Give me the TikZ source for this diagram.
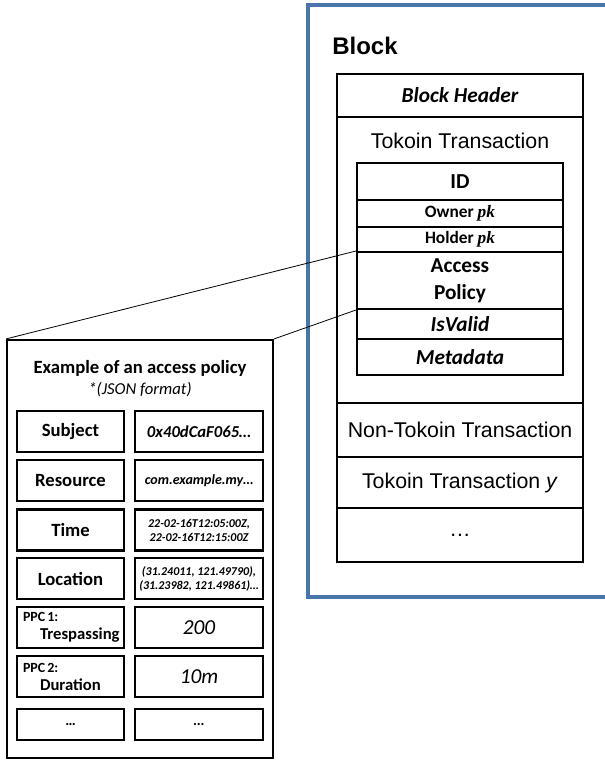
\documentclass[tikz,border=0pt]{standalone}
\usepackage{fontspec}
\setmainfont{Liberation Sans}
\newfontfamily\calibri{Carlito}
\newfontfamily\timesrm{Liberation Serif}
\usepackage{tikz}
\usetikzlibrary{positioning}

\definecolor{blockblue}{RGB}{72,118,170}
\newcommand{\pkey}{{\timesrm\bfseries\itshape pk}}

\begin{document}
\begin{tikzpicture}[x=0.75pt, y=-0.75pt, every node/.style={inner sep=0pt},
    blockrow/.style={draw, line width=2.2pt, minimum width=184.5pt, font={\fontsize{16}{19}\selectfont}},
    txrow/.style={draw, line width=1.5pt, minimum width=154.5pt, align=center, font={\calibri\bfseries\fontsize{16}{20}\selectfont}},
    keycell/.style={draw, line width=2.2pt, minimum width=80.25pt, minimum height=30.75pt, align=center, font={\calibri\bfseries\fontsize{14}{16}\selectfont}},
    ppccell/.style={keycell, text width=71.25pt, align=left, font={\calibri\bfseries\fontsize{12.5}{13.5}\selectfont}},
    valcell/.style={draw, line width=2.2pt, minimum width=96pt, minimum height=30.75pt, align=center}]
    \useasboundingbox (0,0) rectangle (605,760);

    % block frame
    \draw[blockblue, line width=3pt] (308,5) rectangle (625,597);
    \node[font={\bfseries\fontsize{18}{20}\selectfont}] (blocklabel) at (365,46) {Block};

    % block content
    \node[blockrow, minimum height=32.25pt, font={\calibri\bfseries\itshape\fontsize{16}{19}\selectfont}] (header) at (460,95.5) {Block Header};
    \node[blockrow, minimum height=214.5pt] (tokoin) at (460,260) {};
    \node[font={\fontsize{16}{19}\selectfont}] (tokointitle) at (460,141) {Tokoin Transaction};
    \node[blockrow, minimum height=40.5pt] (nontokoin) at (460,430) {Non-Tokoin Transaction};
    \node[blockrow, minimum height=38.25pt] (tokoiny) at (460,482.5) {Tokoin Transaction \textit{y}};
    \node[blockrow, minimum height=40.5pt] (blockdots) at (460,535) {\dots};

    % transaction fields
    \node[txrow, minimum height=27.75pt] (id) at (460,181.5) {ID};
    \node[txrow, minimum height=20.25pt, font={\calibri\bfseries\fontsize{13}{15}\selectfont}] (owner) at (460,213.5) {Owner \pkey};
    \node[txrow, minimum height=18.75pt, font={\calibri\bfseries\fontsize{13}{15}\selectfont}] (holder) at (460,239.5) {Holder \pkey};
    \node[txrow, minimum height=42.75pt] (access) at (460,280.5) {Access\\Policy};
    \node[txrow, minimum height=22.5pt, font={\calibri\bfseries\itshape\fontsize{16}{20}\selectfont}] (isvalid) at (460,324) {IsValid};
    \node[txrow, minimum height=27pt, font={\calibri\bfseries\itshape\fontsize{16}{20}\selectfont}] (meta) at (460,357) {Metadata};

    % access policy example
    \node[draw, line width=1.6pt, minimum width=199.5pt, minimum height=313.5pt] (policy) at (140,549) {};
    \node[font={\calibri\bfseries\fontsize{14}{16}\selectfont}] (policytitle) at (140,368) {Example of an access policy};
    \node[font={\calibri\itshape\fontsize{12.5}{14}\selectfont}] (policynote) at (140,390) {*(JSON format)};

    \node[keycell] (subject) at (70.5,431.5) {Subject};
    \node[valcell, font={\calibri\bfseries\itshape\fontsize{12.5}{14}\selectfont}] (subjectval) at (199,431.5) {0x40dCaF065\dots};
    \node[keycell] (resource) at (70.5,480.5) {Resource};
    \node[valcell, font={\calibri\bfseries\itshape\fontsize{10.5}{12}\selectfont}] (resourceval) at (199,480.5) {com.example.my\dots};
    \node[keycell] (time) at (70.5,530) {Time};
    \node[valcell, font={\calibri\bfseries\itshape\fontsize{9}{10.5}\selectfont}] (timeval) at (199,530) {22-02-16T12:05:00Z,\\22-02-16T12:15:00Z};
    \node[keycell] (location) at (70.5,578.5) {Location};
    \node[valcell, font={\calibri\bfseries\itshape\fontsize{9}{10.5}\selectfont}] (locationval) at (199,578.5) {(31.24011, 121.49790),\\(31.23982, 121.49861)\dots};
    \node[ppccell] (ppcone) at (70.5,627.5) {\mbox{\fontsize{10.5}{13.5}\selectfont PPC\kern1.5pt1:}\\\hspace*{12.75pt}\mbox{Trespassing}};
    \node[valcell, font={\calibri\itshape\fontsize{16}{19}\selectfont}] (ppconeval) at (199,627.5) {200};
    \node[ppccell] (ppctwo) at (70.5,676.5) {\mbox{\fontsize{10.5}{13.5}\selectfont PPC\kern1.5pt2:}\\\hspace*{12.75pt}\mbox{Duration}};
    \node[valcell, font={\calibri\itshape\fontsize{16}{19}\selectfont}] (ppctwoval) at (199,676.5) {10m};
    \node[keycell, minimum height=23.25pt, font={\calibri\bfseries\fontsize{11}{13}\selectfont}] (keydots) at (70.5,724.5) {\dots};
    \node[valcell, minimum height=23.25pt, font={\calibri\bfseries\itshape\fontsize{11}{13}\selectfont}] (valdots) at (199,724.5) {\dots};

    % zoom lines
    \draw[line width=0.6pt] (policy.north west) -- (access.north west);
    \draw[line width=0.6pt] (policy.north east) -- (access.south west);
\end{tikzpicture}
\end{document}
